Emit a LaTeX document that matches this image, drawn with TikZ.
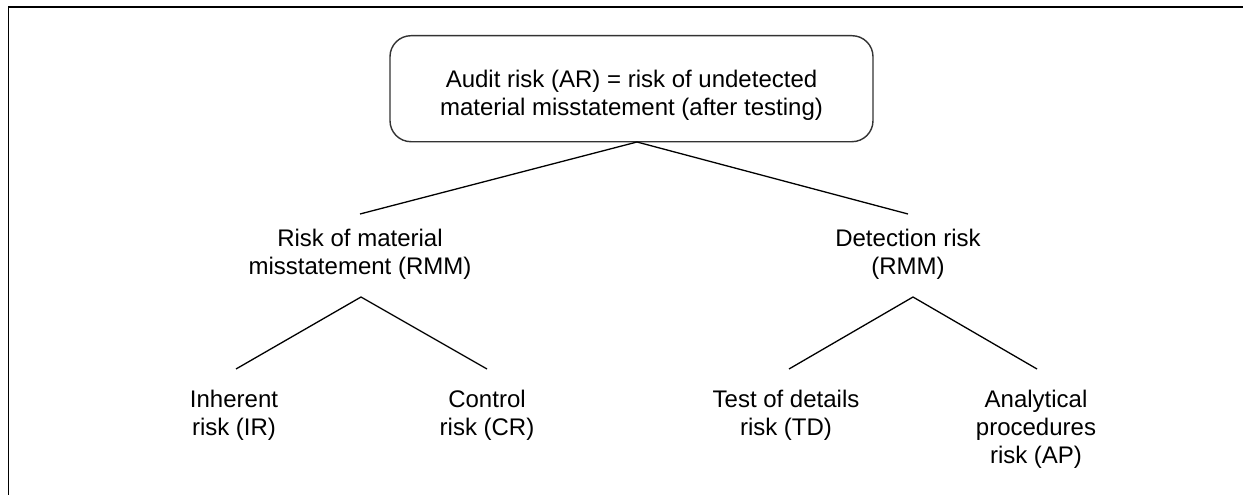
\documentclass[tikz,border=0pt]{standalone}
\usepackage{fontspec}
\setmainfont{Liberation Sans}
\begin{document}
\begin{tikzpicture}[x=1pt,y=-1pt,
  txt/.style={font=\fontsize{24}{28}\selectfont, align=center, inner sep=0pt},
  lbl/.style={txt, anchor=north},
  riskbox/.style={txt, draw=black!80, line width=1.4pt, rounded corners=21pt,
    minimum width=483pt, minimum height=106pt},
  conn/.style={line width=1.3pt, black},
  frame/.style={black, line cap=rect}]
  \useasboundingbox (0,0) rectangle (1243,495);
  \fill[white] (0,0) rectangle (1243,495);

  % page frame: top rule and left rule
  \draw[frame, line width=2pt] (8.5,7.5) -- (1243,7.5);
  \draw[frame, line width=1.5pt] (8.5,7.5) -- (8.5,495);

  % top box
  \node[riskbox] (ar) at (631.5,88.7)
    {\rule{0pt}{33.2pt}Audit risk (AR) = risk of undetected\\material misstatement (after testing)\strut};

  % second level
  \node[lbl] (rmm) at (360,226.9) {\strut Risk of material\\misstatement (RMM)};
  \node[lbl] (dr)  at (908,226.9) {\strut Detection risk\\(RMM)};

  % third level
  \node[lbl] (ir) at (234,387.4)  {\strut Inherent\\risk (IR)};
  \node[lbl] (cr) at (487,387.4)  {\strut Control\\risk (CR)};
  \node[lbl] (td) at (786,387.4)  {\strut Test of details\\risk (TD)};
  \node[lbl] (ap) at (1036,387.4) {\strut Analytical\\procedures\\risk (AP)};

  % connector end points
  \coordinate (arfoot) at (637,142);
  \coordinate (rmmtop) at (360,214);
  \coordinate (drtop)  at (908,214);
  \coordinate (rmmfoot) at (361,297);
  \coordinate (drfoot)  at (913,297);
  \coordinate (irtop) at (236,369);
  \coordinate (crtop) at (487,369);
  \coordinate (tdtop) at (789,369);
  \coordinate (aptop) at (1037,369);

  \draw[conn] (rmmtop) -- (arfoot) -- (drtop);
  \draw[conn] (irtop) -- (rmmfoot) -- (crtop);
  \draw[conn] (tdtop) -- (drfoot) -- (aptop);
\end{tikzpicture}
\end{document}
